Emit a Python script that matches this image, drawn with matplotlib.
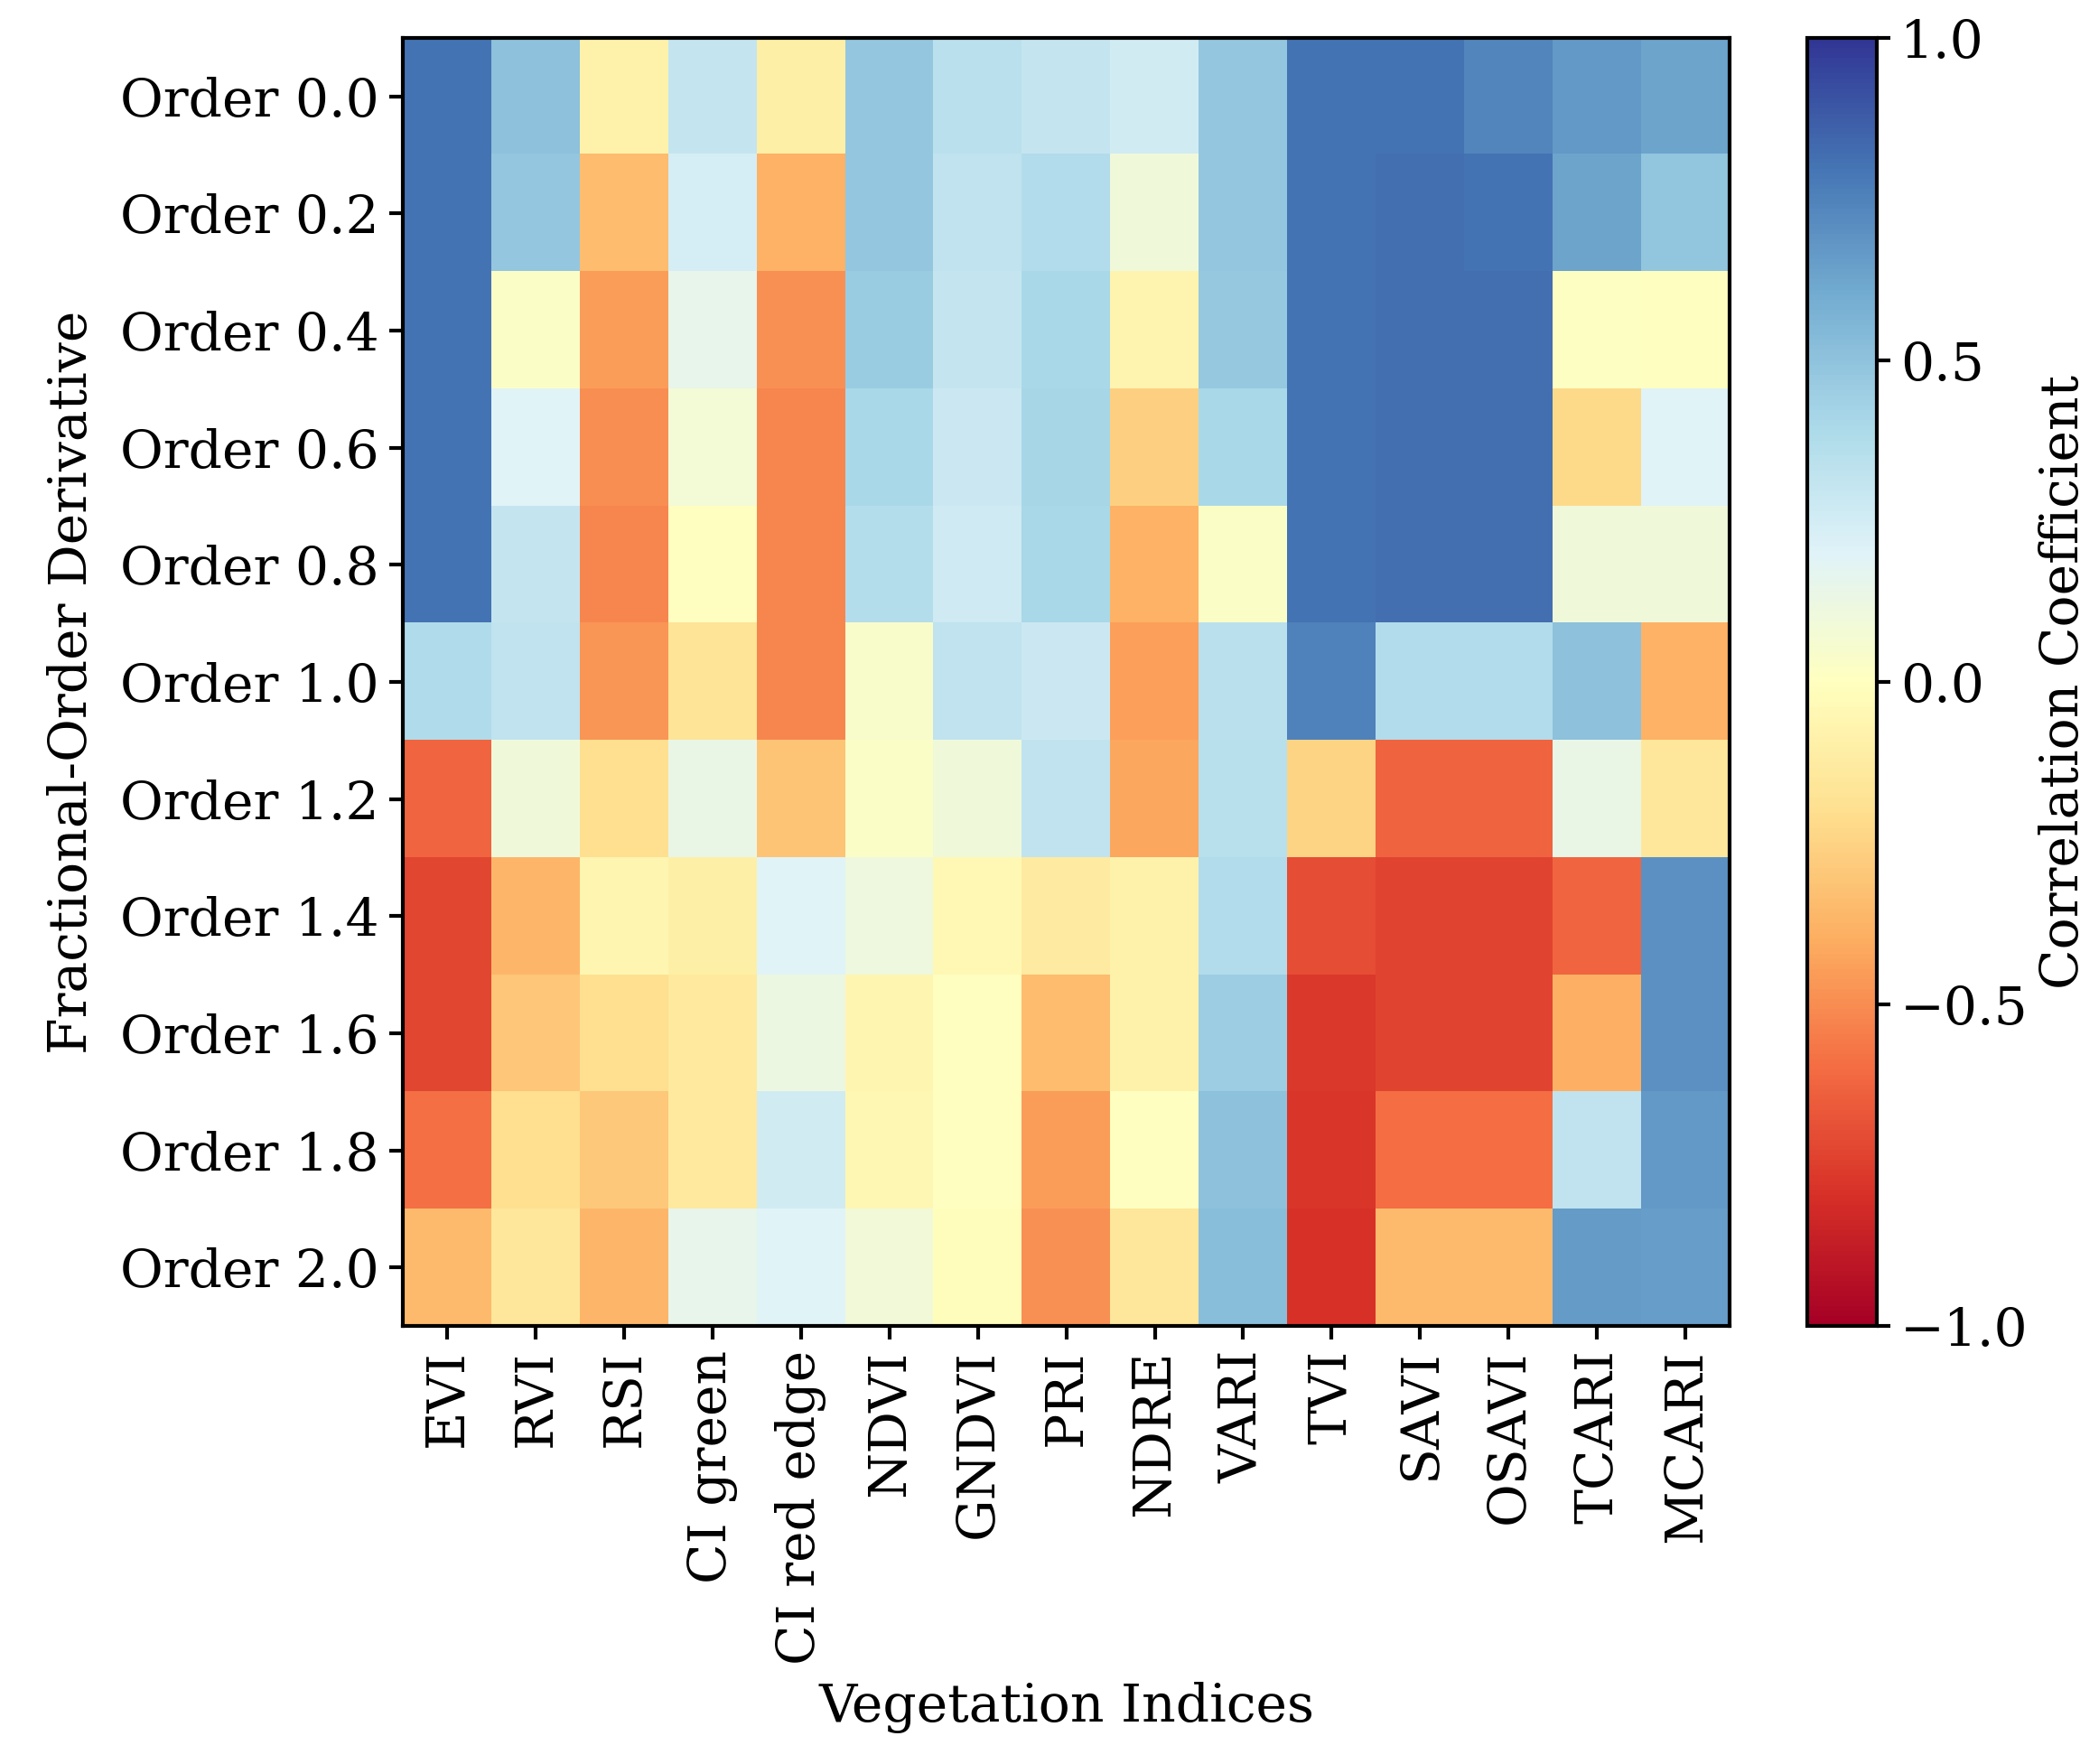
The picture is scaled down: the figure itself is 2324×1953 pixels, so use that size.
import numpy as np
import matplotlib
matplotlib.use("Agg")
import matplotlib.pyplot as plt

plt.rcParams['font.family'] = ['DejaVu Serif']

indices = ["EVI", "RVI", "RSI", "CI green", "CI red edge", "NDVI", "GNDVI", "PRI",
           "NDRE", "VARI", "TVI", "SAVI", "OSAVI", "TCARI", "MCARI"]
orders = ["Order 0.0", "Order 0.2", "Order 0.4", "Order 0.6", "Order 0.8", "Order 1.0",
          "Order 1.2", "Order 1.4", "Order 1.6", "Order 1.8", "Order 2.0"]

# correlation per index, one value per order (0.0 ... 2.0)
evi = [0.80, 0.80, 0.80, 0.80, 0.80, 0.38, -0.62, -0.72, -0.72, -0.59, -0.35]
rvi = [0.50, 0.48, 0.03, 0.20, 0.30, 0.32, 0.10, -0.36, -0.30, -0.20, -0.15]
rsi = [-0.08, -0.34, -0.45, -0.50, -0.52, -0.47, -0.20, -0.06, -0.20, -0.29, -0.36]
ci_green = [0.30, 0.24, 0.15, 0.08, 0.00, -0.17, 0.14, -0.10, -0.14, -0.14, 0.15]
ci_red_edge = [-0.10, -0.38, -0.49, -0.52, -0.52, -0.52, -0.31, 0.20, 0.12, 0.25, 0.20]
ndvi = [0.48, 0.48, 0.46, 0.40, 0.36, 0.04, 0.03, 0.11, -0.06, -0.05, 0.09]
gndvi = [0.34, 0.32, 0.30, 0.28, 0.26, 0.32, 0.10, -0.04, 0.00, 0.00, -0.01]
pri = [0.30, 0.37, 0.40, 0.41, 0.40, 0.28, 0.32, -0.13, -0.34, -0.45, -0.49]
ndre = [0.25, 0.10, -0.07, -0.26, -0.38, -0.44, -0.42, -0.08, -0.08, 0.00, -0.15]
vari = [0.48, 0.48, 0.47, 0.40, 0.03, 0.34, 0.35, 0.37, 0.45, 0.50, 0.52]
tvi = [0.80, 0.80, 0.80, 0.80, 0.80, 0.75, -0.25, -0.70, -0.77, -0.78, -0.79]
savi = [0.80, 0.82, 0.82, 0.82, 0.82, 0.37, -0.63, -0.73, -0.73, -0.60, -0.35]
osavi = [0.74, 0.80, 0.82, 0.82, 0.82, 0.37, -0.63, -0.73, -0.73, -0.60, -0.35]
tcari = [0.67, 0.63, 0.01, -0.22, 0.10, 0.50, 0.14, -0.62, -0.39, 0.32, 0.66]
mcari = [0.63, 0.49, 0.00, 0.20, 0.10, -0.38, -0.15, 0.70, 0.70, 0.67, 0.65]

corr = np.array([evi, rvi, rsi, ci_green, ci_red_edge, ndvi, gndvi, pri,
                 ndre, vari, tvi, savi, osavi, tcari, mcari]).T

fig = plt.figure(figsize=(23.24, 19.53), dpi=100)
ax = fig.add_axes([0.192, 0.2483, 0.632, 0.7302])
cax = fig.add_axes([0.861, 0.2483, 0.033, 0.7302])

im = ax.imshow(corr, cmap="RdYlBu", vmin=-1, vmax=1, aspect="auto",
               interpolation="nearest")

fs = 42
ax.set_xticks(np.arange(len(indices)))
ax.set_xticklabels(indices, rotation=90, fontsize=fs)
ax.set_yticks(np.arange(len(orders)))
ax.set_yticklabels(orders, fontsize=fs)
ax.tick_params(width=3, length=11, pad=8)
for s in ax.spines.values():
    s.set_linewidth(3)
ax.set_xlabel("Vegetation Indices", fontsize=fs, labelpad=14)
ax.set_ylabel("Fractional-Order Derivative", fontsize=fs, labelpad=18)

cb = fig.colorbar(im, cax=cax, ticks=[-1.0, -0.5, 0.0, 0.5, 1.0])
cb.ax.tick_params(labelsize=fs, width=3, length=11, pad=8)
cb.outline.set_linewidth(3)
cb.set_label("Correlation Coefficient", fontsize=fs, labelpad=8)

fig.savefig("out.png", dpi=100)
